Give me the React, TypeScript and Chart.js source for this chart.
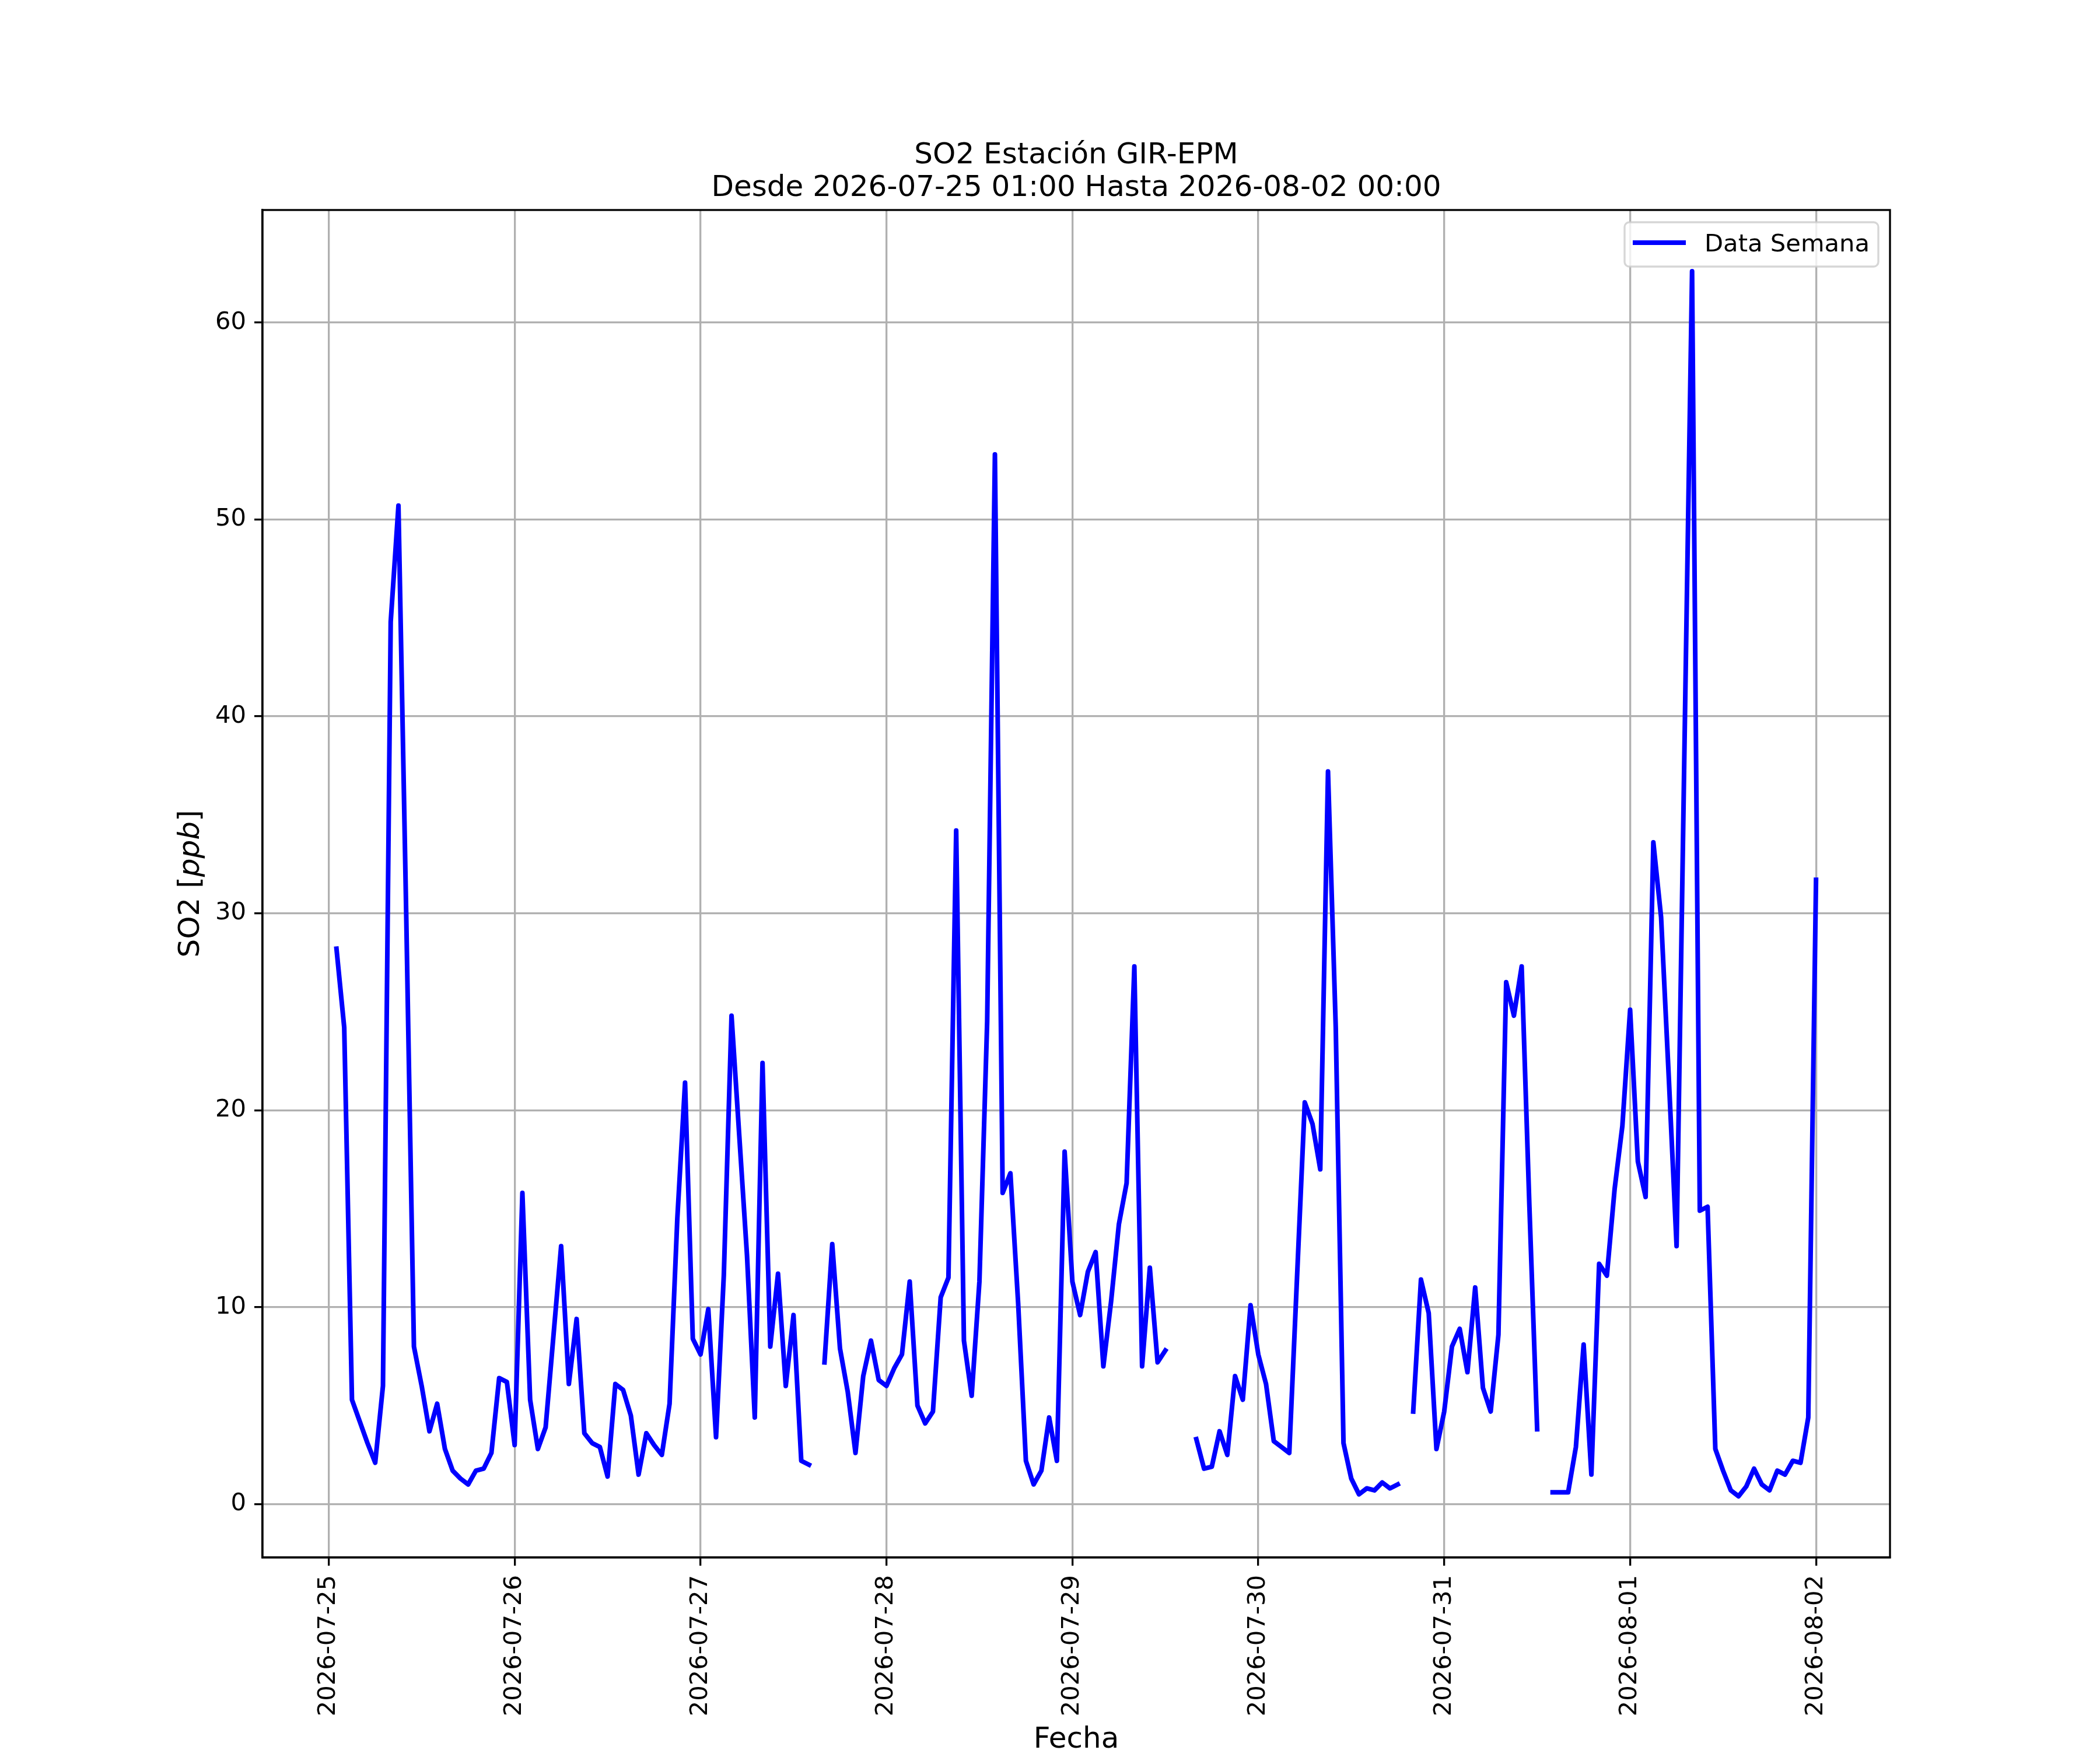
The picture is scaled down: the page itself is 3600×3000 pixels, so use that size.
import { Chart, registerables } from "chart.js";
import { useEffect, useRef } from "react";

Chart.register(...registerables);

// hourly SO2 (ppb), 2026-07-25 01:00 .. 2026-08-02 00:00, null = missing
const so2Day1 = [28.2, 24.2, 5.3, 4.2, 3.1, 2.1, 6.0, 44.8, 50.7, 30.0, 8.0, 6.0, 3.7, 5.1, 2.8, 1.7, 1.3, 1.0, 1.7, 1.8, 2.6, 6.4, 6.2, 3.0];
const so2Day2 = [15.8, 5.3, 2.8, 3.9, 8.5, 13.1, 6.1, 9.4, 3.6, 3.1, 2.9, 1.4, 6.1, 5.8, 4.5, 1.5, 3.6, 3.0, 2.5, 5.1, 14.5, 21.4, 8.4, 7.6];
const so2Day3 = [9.9, 3.4, 11.6, 24.8, 18.7, 12.6, 4.4, 22.4, 8.0, 11.7, 6.0, 9.6, 2.2, 2.0, null, 7.2, 13.2, 7.9, 5.7, 2.6, 6.5, 8.3, 6.3, 6.0];
const so2Day4 = [6.9, 7.6, 11.3, 5.0, 4.1, 4.7, 10.5, 11.5, 34.2, 8.3, 5.5, 11.3, 24.5, 53.3, 15.8, 16.8, 10.2, 2.2, 1.0, 1.7, 4.4, 2.2, 17.9, 11.3];
const so2Day5 = [9.6, 11.8, 12.8, 7.0, 10.3, 14.2, 16.3, 27.3, 7.0, 12.0, 7.2, 7.8, null, null, null, 3.3, 1.8, 1.9, 3.7, 2.5, 6.5, 5.3, 10.1, 7.6];
const so2Day6 = [6.1, 3.2, 2.9, 2.6, 11.5, 20.4, 19.3, 17.0, 37.2, 24.2, 3.1, 1.3, 0.5, 0.8, 0.7, 1.1, 0.8, 1.0, null, 4.7, 11.4, 9.7, 2.8, 4.7];
const so2Day7 = [8.0, 8.9, 6.7, 11.0, 5.9, 4.7, 8.6, 26.5, 24.8, 27.3, 15.1, 3.8, null, 0.6, 0.6, 0.6, 2.9, 8.1, 1.5, 12.2, 11.6, 16.0, 19.2, 25.1];
const so2Day8 = [17.4, 15.6, 33.6, 29.8, 21.6, 13.1, 38.0, 62.6, 14.9, 15.1, 2.8, 1.7, 0.7, 0.4, 0.9, 1.8, 1.0, 0.7, 1.7, 1.5, 2.2, 2.1, 4.4, 31.7];

const dateTicks = [
	"2026-07-25",
	"2026-07-26",
	"2026-07-27",
	"2026-07-28",
	"2026-07-29",
	"2026-07-30",
	"2026-07-31",
	"2026-08-01",
	"2026-08-02",
];
const yTicks = [0, 10, 20, 30, 40, 50, 60];

const titleLines = [
	"SO2 Estación GIR-EPM",
	"Desde 2026-07-25 01:00 Hasta 2026-08-02 00:00",
];
const seriesLabel = "Data Semana";

const FONT = '"DejaVu Sans", sans-serif';
const BIG = 50;
const SMALL = 41.7;

const allValues = [
	...so2Day1,
	...so2Day2,
	...so2Day3,
	...so2Day4,
	...so2Day5,
	...so2Day6,
	...so2Day7,
	...so2Day8,
];

const decorations = {
	id: "decorations",
	afterDatasetsDraw(chart: Chart) {
		const { ctx, chartArea } = chart;
		const cx = (chartArea.left + chartArea.right) / 2;
		ctx.save();

		// frame
		ctx.strokeStyle = "#000";
		ctx.lineWidth = 3.3;
		ctx.strokeRect(
			chartArea.left,
			chartArea.top,
			chartArea.right - chartArea.left,
			chartArea.bottom - chartArea.top,
		);

		// title
		ctx.fillStyle = "#000";
		ctx.textAlign = "center";
		ctx.textBaseline = "alphabetic";
		ctx.font = `${BIG}px ${FONT}`;
		ctx.fillText(titleLines[0], cx, 280);
		ctx.fillText(titleLines[1], cx, 336);

		// x label
		ctx.fillText("Fecha", cx, 2996);

		// y label with italic unit
		const cy = (chartArea.top + chartArea.bottom) / 2;
		ctx.translate(341, cy);
		ctx.rotate(-Math.PI / 2);
		const parts: [string, string][] = [
			["SO2 [", `${BIG}px ${FONT}`],
			["ppb", `italic ${BIG}px ${FONT}`],
			["]", `${BIG}px ${FONT}`],
		];
		let total = 0;
		for (const [t, f] of parts) {
			ctx.font = f;
			total += ctx.measureText(t).width;
		}
		let px = -total / 2;
		ctx.textAlign = "left";
		for (const [t, f] of parts) {
			ctx.font = f;
			ctx.fillText(t, px, 0);
			px += ctx.measureText(t).width;
		}
		ctx.setTransform(1, 0, 0, 1, 0, 0);

		// legend
		const lx = 2785;
		const ly = 381;
		const lw = 435;
		const lh = 76;
		ctx.beginPath();
		ctx.roundRect(lx, ly, lw, lh, 8);
		ctx.fillStyle = "rgba(255,255,255,0.8)";
		ctx.fill();
		ctx.strokeStyle = "rgba(204,204,204,0.8)";
		ctx.lineWidth = 3.3;
		ctx.stroke();
		ctx.beginPath();
		ctx.moveTo(2799, 416);
		ctx.lineTo(2890, 416);
		ctx.strokeStyle = "#0000ff";
		ctx.lineWidth = 8;
		ctx.stroke();
		ctx.fillStyle = "#000";
		ctx.font = `${SMALL}px ${FONT}`;
		ctx.textAlign = "left";
		ctx.fillText(seriesLabel, 2922, 431);

		ctx.restore();
	},
};

export default function App() {
	const canvasRef = useRef<HTMLCanvasElement>(null);
	const chartRef = useRef<Chart | null>(null);

	useEffect(() => {
		document.body.style.margin = "0";
		if (!canvasRef.current) return;
		if (chartRef.current) chartRef.current.destroy();

		const points = allValues.map((v, i) => ({ x: i + 1, y: v }));

		chartRef.current = new Chart(canvasRef.current, {
			type: "line",
			data: {
				datasets: [
					{
						label: seriesLabel,
						data: points as any,
						borderColor: "#0000ff",
						borderWidth: 8,
						pointRadius: 0,
						spanGaps: false,
						fill: false,
						tension: 0,
						borderJoinStyle: "round",
						borderCapStyle: "square",
					},
				],
			},
			options: {
				animation: false,
				responsive: false,
				devicePixelRatio: 1,
				layout: { padding: { left: 0, top: 360, right: 360, bottom: 0 } },
				plugins: {
					legend: { display: false },
					title: { display: false },
					tooltip: { enabled: false },
				},
				scales: {
					x: {
						type: "linear",
						min: -8.55,
						max: 201.55,
						afterBuildTicks: (scale: any) => {
							scale.ticks = dateTicks.map((_, i) => ({ value: i * 24 }));
						},
						afterFit: (scale: any) => {
							scale.height = 330;
						},
						ticks: {
							minRotation: 90,
							maxRotation: 90,
							autoSkip: false,
							padding: 16,
							color: "#000",
							font: { family: FONT, size: SMALL },
							callback: (v: any) => dateTicks[Math.round(Number(v) / 24)] ?? "",
						},
						grid: {
							color: "#b0b0b0",
							lineWidth: 3.3,
							drawTicks: true,
							tickLength: 14,
							tickColor: "#000",
							tickWidth: 3.3,
						},
						border: { display: true, color: "#000", width: 3.3 },
					},
					y: {
						type: "linear",
						min: -2.71,
						max: 65.71,
						afterBuildTicks: (scale: any) => {
							scale.ticks = yTicks.map((v) => ({ value: v }));
						},
						afterFit: (scale: any) => {
							scale.width = 450;
						},
						ticks: {
							padding: 14,
							color: "#000",
							font: { family: FONT, size: SMALL },
							callback: (v: any) => String(v),
						},
						grid: {
							color: "#b0b0b0",
							lineWidth: 3.3,
							drawTicks: true,
							tickLength: 14,
							tickColor: "#000",
							tickWidth: 3.3,
						},
						border: { display: true, color: "#000", width: 3.3 },
					},
				},
			},
			plugins: [decorations],
		});

		return () => {
			chartRef.current?.destroy();
			chartRef.current = null;
		};
	}, []);

	return <canvas ref={canvasRef} width={3600} height={3000} style={{ display: "block" }} />;
}
